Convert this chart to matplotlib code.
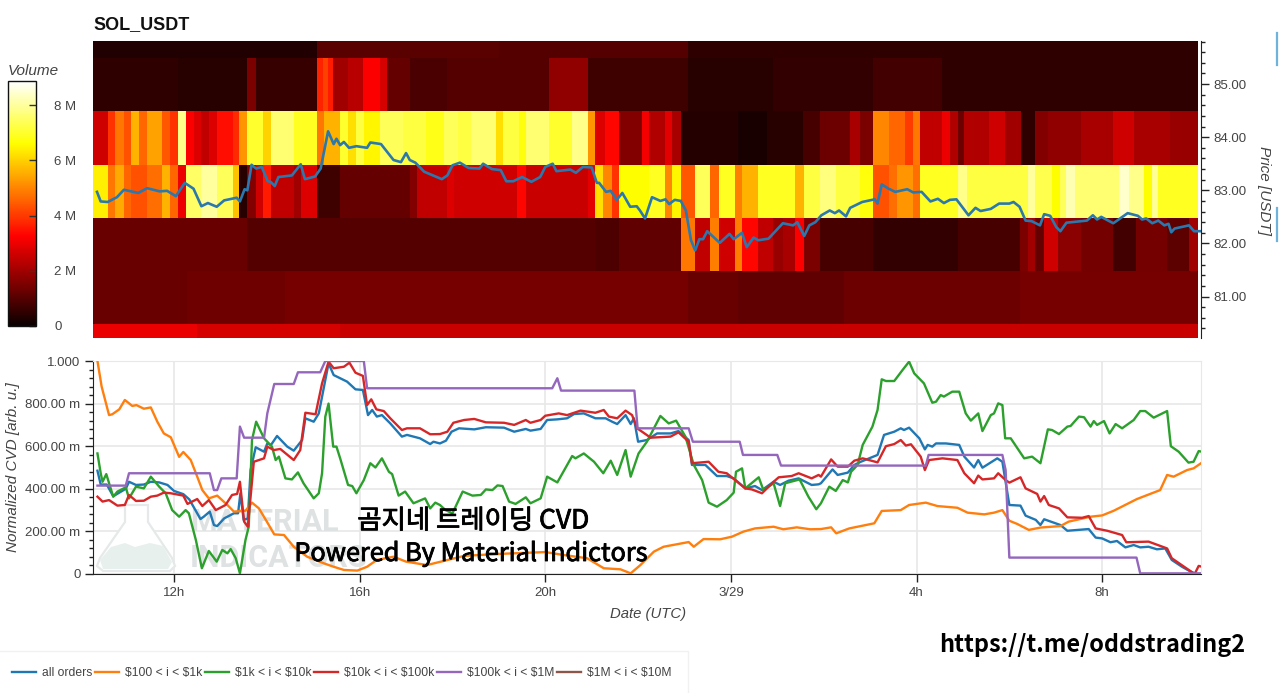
### SOL_USDT volume heatmap with normalized CVD panel below

import matplotlib
matplotlib.use('Agg')
import numpy as np
import matplotlib.pyplot as plt
import matplotlib.patheffects as path_effects
from matplotlib.colors import Normalize
from matplotlib.cm import ScalarMappable
from matplotlib.lines import Line2D
from matplotlib.ticker import MultipleLocator

plt.rcParams['font.family'] = ['Liberation Sans', 'DejaVu Sans']

# heatmap data, hours are counted from 3/28 00:00 UTC, volume in millions
price_edges = [80.22, 80.48, 81.48, 82.48, 83.48, 84.49, 85.49, 85.81]

band_80_hours = [10.25, 12.5, 15.58, 34.07]
band_80_volume = [2.95, 2.7, 2.5]

band_81_hours = [10.25, 12.27, 14.4, 23.08, 24.15, 26.44, 30.22, 34.07]
band_81_volume = [1.25, 1.35, 1.45, 1.25, 1.15, 1.3, 1.45]

band_82_hours = [10.25, 13.58, 21.08, 21.58, 22.92, 23.23, 23.55, 23.75, 24.08, 24.24, 24.59, 24.9, 25.12,
                 25.38, 25.58, 25.91, 27.07, 28.9, 30.22, 30.4, 30.55, 30.75, 31.05, 31.54, 32.24, 32.73,
                 33.39, 33.87, 34.07]
band_82_volume = [1.25, 1.0, 0.9, 1.15, 4.8, 2.4, 4.9, 2.6, 4.9, 3.3, 2.4, 1.9, 2.1,
                  3.2, 1.5, 0.8, 0.55, 0.8, 1.5, 2.0, 1.2, 2.6, 1.7, 1.4, 0.75, 1.4, 1.1, 2.0]

band_83_hours = [10.25, 10.57, 10.73, 10.92, 11.08, 11.42, 11.75, 11.92, 12.08, 12.25, 12.59, 12.92, 13.27,
                 13.41, 13.58, 13.77, 13.92, 14.08, 14.58, 14.73, 15.08, 15.58, 17.08, 17.23, 17.89, 18.04,
                 19.39, 19.58, 20.93, 21.08, 21.25, 21.43, 21.58, 22.23, 22.57, 22.74, 22.92, 23.23, 23.55,
                 23.75, 24.08, 24.24, 24.59, 25.38, 25.58, 25.91, 26.26, 26.79, 27.07, 27.41, 27.58, 27.93,
                 28.07, 28.9, 29.08, 30.4, 30.55, 30.92, 31.1, 31.23, 31.41, 32.37, 32.58, 32.9, 33.08,
                 33.21, 34.07]
band_83_volume = [6.4, 4.8, 5.5, 4.6, 4.3, 4.7, 5.6, 4.6, 3.0, 7.5, 8.0, 7.4, 5.8,
                  0.4, 1.6, 2.6, 3.6, 2.4, 2.0, 2.8, 0.7, 1.2, 1.6, 2.4, 2.8,
                  2.6, 3.3, 2.5, 2.9, 6.2, 5.0, 3.9, 6.6, 6.9, 5.0, 6.5, 4.4, 7.4,
                  4.6, 6.9, 4.9, 5.6, 6.9, 5.6, 7.2, 7.7, 7.2, 6.7, 4.3, 4.7, 5.2,
                  4.7, 6.9, 7.8, 7.2, 8.0, 7.3, 6.6, 7.4, 8.2, 7.6, 8.4, 7.8, 6.6,
                  7.9, 6.9]

band_84_hours = [10.25, 10.57, 10.73, 10.92, 11.08, 11.24, 11.42, 11.75, 11.92, 12.08, 12.25, 12.42, 12.59,
                 12.75, 12.92, 13.27, 13.41, 13.58, 13.92, 14.08, 14.58, 15.08, 15.23, 15.58, 15.75, 15.93,
                 16.09, 16.43, 16.93, 17.43, 17.81, 18.12, 18.39, 18.93, 19.08, 19.43, 19.58, 20.08, 20.58,
                 20.93, 21.08, 21.28, 21.58, 22.08, 22.23, 22.57, 22.74, 22.92, 24.15, 24.77, 25.56, 25.91,
                 26.57, 26.79, 27.07, 27.41, 27.76, 27.92, 28.07, 28.55, 28.72, 28.9, 29.03, 29.56, 29.91,
                 30.26, 30.55, 30.84, 31.54, 32.24, 32.68, 33.47, 34.07]
band_84_volume = [2.6, 3.9, 4.8, 4.3, 5.6, 4.6, 5.4, 4.4, 3.9, 7.8, 3.2, 2.8, 2.4,
                  2.8, 3.4, 3.8, 5.2, 7.0, 6.0, 7.6, 6.9, 4.8, 5.6, 7.0, 6.2, 7.2,
                  6.5, 7.4, 7.2, 6.8, 7.4, 7.2, 7.6, 6.2, 7.2, 6.7, 7.6, 7.0, 7.8,
                  5.2, 2.8, 3.3, 1.6, 3.1, 2.2, 2.9, 2.1, 0.35, 0.2, 0.4, 0.8,
                  1.3, 2.1, 1.5, 5.0, 4.6, 4.0, 4.8, 2.4, 3.0, 2.2, 1.3, 2.2, 2.6, 2.0,
                  0.5, 1.6, 1.8, 2.1, 2.6, 2.1, 1.9]

band_85_hours = [10.25, 12.08, 13.58, 13.77, 15.08, 15.2, 15.31, 15.42, 15.74, 16.08, 16.43, 16.58, 17.08,
                 17.89, 20.08, 20.93, 23.08, 24.9, 27.07, 28.55, 34.07]
band_85_volume = [0.5, 0.4, 1.5, 0.6, 3.7, 4.1, 3.6, 2.0, 2.3, 3.2, 2.7, 1.2, 0.85,
                  1.0, 1.8, 0.7, 0.4, 0.55, 0.75, 0.5]

band_86_hours = [10.25, 15.08, 19.0, 23.08, 34.07]
band_86_volume = [0.3, 1.05, 1.0, 0.5]

# price line
price_hours = [10.34, 10.42, 10.57, 10.77, 10.92, 11.23, 11.42, 11.69, 11.85, 12.04, 12.23, 12.42, 12.59, 12.73,
               12.92, 13.08, 13.35, 13.42, 13.52, 13.58, 13.67, 13.77, 13.89, 14.02, 14.08, 14.17, 14.25, 14.54,
               14.73, 14.82, 15.04, 15.16, 15.32, 15.44, 15.5, 15.58, 15.66, 15.77, 15.93, 16.16, 16.23, 16.46,
               16.73, 16.89, 17.0, 17.08, 17.2, 17.39, 17.77, 17.89, 18.0, 18.16, 18.35, 18.58, 18.66, 18.85,
               19.04, 19.16, 19.31, 19.5, 19.7, 19.89, 20.0, 20.16, 20.24, 20.54, 20.66, 20.81, 21.0, 21.11,
               21.16, 21.31, 21.41, 21.54, 21.66, 21.83, 21.97, 22.04, 22.15, 22.3, 22.48, 22.59, 22.67, 22.79,
               22.92, 23.03, 23.14, 23.23, 23.32, 23.4, 23.49, 23.76, 23.97, 24.06, 24.24, 24.34, 24.49, 24.59,
               24.81, 25.12, 25.34, 25.43, 25.58, 25.69, 25.82, 25.95, 26.13, 26.24, 26.33, 26.48, 26.57, 26.83,
               27.1, 27.16, 27.25, 27.4, 27.54, 27.8, 27.93, 28.11, 28.3, 28.46, 28.59, 28.72, 28.86, 29.12,
               29.27, 29.38, 29.6, 29.78, 30.0, 30.09, 30.22, 30.35, 30.48, 30.66, 30.75, 30.88, 31.01, 31.1,
               31.23, 31.67, 31.8, 31.89, 31.98, 32.24, 32.55, 32.77, 32.86, 32.95, 33.08, 33.21, 33.34, 33.43,
               33.49, 33.56, 33.87, 33.98, 34.13]
price_usdt = [82.97, 82.79, 82.78, 82.87, 83.01, 82.95, 83.04, 82.98, 82.99, 82.89, 83.14, 83.03, 82.70, 82.76,
              82.69, 82.81, 82.86, 82.79, 83.02, 83.0, 83.48, 83.41, 83.44, 83.17, 83.16, 83.08, 83.25, 83.28,
              83.49, 83.21, 83.26, 83.41, 84.11, 83.87, 83.97, 83.85, 83.91, 83.8, 83.83, 83.8, 83.9, 83.87,
              83.57, 83.53, 83.7, 83.57, 83.52, 83.35, 83.21, 83.28, 83.47, 83.52, 83.42, 83.41, 83.5, 83.4,
              83.38, 83.17, 83.17, 83.25, 83.16, 83.25, 83.44, 83.5, 83.36, 83.39, 83.33, 83.44, 83.43, 83.14,
              83.14, 82.97, 82.99, 82.82, 82.95, 82.69, 82.7, 82.62, 82.47, 82.87, 82.8, 82.83, 82.74, 82.82,
              82.8, 82.62, 82.06, 81.87, 82.08, 82.08, 82.23, 82.01, 82.18, 82.08, 82.2, 81.93, 82.11, 82.06,
              82.09, 82.38, 82.34, 82.4, 82.14, 82.34, 82.4, 82.53, 82.62, 82.57, 82.62, 82.51, 82.67, 82.78,
              82.83, 82.75, 83.11, 83.03, 82.97, 83.02, 82.96, 82.97, 82.79, 82.84, 82.76, 82.82, 82.83, 82.53,
              82.67, 82.61, 82.65, 82.75, 82.75, 82.78, 82.69, 82.43, 82.42, 82.34, 82.55, 82.52, 82.31, 82.23,
              82.39, 82.43, 82.53, 82.45, 82.5, 82.38, 82.57, 82.52, 82.45, 82.47, 82.38, 82.43, 82.34, 82.37,
              82.21, 82.28, 82.34, 82.23, 82.23]

# CVD lines
all_hours = [10.35, 10.42, 10.55, 10.69, 10.96, 11.03, 11.18, 11.35, 11.5, 11.68, 11.86, 12.0, 12.2, 12.33, 12.57,
             12.64, 12.77, 12.86, 12.93, 13.08, 13.29, 13.38, 13.43, 13.5, 13.59, 13.65, 13.76, 13.94, 14.01, 14.09,
             14.22, 14.44, 14.58, 14.76, 14.83, 15.01, 15.12, 15.33, 15.44, 15.73, 15.91, 16.07, 16.18, 16.27, 16.37,
             16.48, 16.66, 16.91, 17.02, 17.3, 17.52, 17.59, 17.73, 17.86, 17.98, 18.14, 18.47, 18.72, 19.11, 19.33,
             19.58, 19.68, 19.9, 20.04, 20.26, 20.47, 20.62, 20.83, 21.08, 21.3, 21.44, 21.55, 21.73, 21.84, 21.91,
             22.0, 22.19, 22.41, 22.7, 22.87, 23.09, 23.16, 23.45, 23.7, 23.91, 24.06, 24.31, 24.52, 24.67, 24.92,
             25.06, 25.24, 25.46, 25.74, 25.89, 25.94, 26.19, 26.3, 26.52, 26.66, 26.8, 27.16, 27.3, 27.52, 27.66,
             27.73, 27.84, 28.06, 28.18, 28.24, 28.34, 28.42, 28.63, 28.92, 29.03, 29.24, 29.33, 29.42, 29.74, 29.85,
             29.92, 30.0, 30.24, 30.35, 30.57, 30.67, 30.75, 31.1, 31.25, 31.71, 31.86, 32.0, 32.18, 32.32, 32.5,
             32.68, 32.82, 33.0, 33.18, 33.36, 33.5, 33.72, 34.0, 34.15]
all_cvd = [.485, .42, .42, .365, .40, .433, .418, .42, .433, .43, .418, .39, .375, .35, .258,
           .269, .293, .23, .225, .261, .285, .285, .379, .254, .261, .488, .595, .574, .613, .606,
           .648, .598, .579, .629, .731, .715, .754, .989, .934, .903, .867, .864, .746, .77, .739,
           .746, .707, .645, .653, .637, .61, .621, .613, .626, .668, .684, .679, .689, .687, .668,
           .681, .673, .681, .723, .726, .731, .751, .754, .731, .731, .715, .704, .746, .704, .731,
           .621, .629, .66, .66, .671, .629, .512, .512, .46, .46, .449, .402, .413, .394, .433,
           .418, .438, .449, .418, .421, .426, .491, .465, .476, .512, .527, .559, .653, .668, .684,
           .676, .687, .637, .585, .606, .598, .613, .613, .606, .551, .50, .535, .499, .543, .527,
           .433, .324, .321, .274, .254, .23, .257, .23, .203, .211, .171, .167, .149, .155, .125,
           .136, .125, .128, .116, .12, .066, .034, 0.0, 0.0]

orange_hours = [10.35, 10.44, 10.6, 10.67, 10.82, 10.94, 11.1, 11.19, 11.35, 11.5, 11.64, 11.78, 11.93, 12.11, 12.2,
                12.36, 12.5, 12.61, 12.75, 12.93, 13.15, 13.29, 13.54, 13.68, 13.83, 14.0, 14.16, 14.37, 14.58, 14.87,
                15.23, 15.44, 15.66, 15.95, 16.16, 16.37, 16.73, 17.0, 17.45, 17.75, 18.25, 18.97, 20.0, 20.4, 20.9,
                21.26, 21.62, 21.84, 22.05, 22.34, 22.55, 23.09, 23.2, 23.41, 23.77, 24.02, 24.27, 24.52, 24.92, 25.13,
                25.42, 25.71, 25.94, 26.16, 26.27, 26.55, 27.09, 27.25, 27.66, 27.84, 28.2, 28.45, 28.88, 29.1, 29.46,
                29.67, 29.85, 30.0, 30.17, 30.42, 30.67, 31.1, 31.28, 31.75, 32.0, 32.25, 32.75, 33.25, 33.4, 33.54,
                33.83, 33.97, 34.15]
orange_cvd = [1.0, .88, .746, .75, .773, .817, .789, .793, .776, .782, .715, .66, .642, .55, .573,
              .535, .457, .394, .355, .368, .324, .293, .297, .335, .308, .246, .186, .183, .128, .081,
              .05, .034, .019, .016, .034, .066, .081, .058, .042, .058, .085, .094, .103, .089, .074,
              .027, .022, .003, .042, .105, .128, .15, .128, .164, .163, .175, .199, .214, .222, .21,
              .219, .21, .211, .219, .191, .214, .238, .296, .30, .324, .335, .319, .311, .288, .28,
              .288, .30, .25, .235, .207, .218, .225, .246, .269, .275, .297, .352, .394, .465, .457,
              .488, .496, .523]

green_hours = [10.35, 10.42, 10.46, 10.54, 10.69, 10.78, 10.96, 11.03, 11.18, 11.35, 11.5, 11.68, 11.82, 11.96, 12.11,
               12.25, 12.32, 12.47, 12.6, 12.75, 12.92, 13.04, 13.15, 13.22, 13.33, 13.42, 13.54, 13.61, 13.68, 13.77,
               13.94, 14.11, 14.19, 14.26, 14.4, 14.54, 14.67, 14.79, 15.01, 15.12, 15.19, 15.26, 15.33, 15.43, 15.5,
               15.58, 15.75, 15.84, 15.93, 16.09, 16.23, 16.34, 16.48, 16.63, 16.7, 16.84, 16.98, 17.16, 17.41, 17.52,
               17.63, 17.73, 17.85, 18.0, 18.22, 18.43, 18.61, 18.72, 18.86, 18.97, 19.08, 19.22, 19.36, 19.58, 19.68,
               19.9, 20.04, 20.26, 20.58, 20.65, 20.83, 21.05, 21.25, 21.41, 21.55, 21.73, 21.84, 22.01, 22.19, 22.48,
               22.66, 22.82, 23.02, 23.2, 23.38, 23.52, 23.7, 23.91, 24.06, 24.11, 24.24, 24.31, 24.6, 24.7, 24.92,
               25.06, 25.17, 25.48, 25.67, 25.84, 25.94, 26.12, 26.26, 26.41, 26.52, 26.59, 26.73, 26.84, 27.05, 27.16,
               27.25, 27.34, 27.52, 27.7, 27.84, 27.95, 28.16, 28.34, 28.42, 28.52, 28.59, 28.77, 28.92, 29.06, 29.17,
               29.33, 29.42, 29.6, 29.67, 29.76, 29.85, 29.91, 30.03, 30.32, 30.49, 30.67, 30.83, 30.92, 31.07, 31.25,
               31.32, 31.5, 31.61, 31.75, 31.82, 31.89, 32.04, 32.16, 32.29, 32.43, 32.68, 32.82, 32.93, 33.11, 33.4,
               33.48, 33.65, 33.86, 33.97, 34.08, 34.15]
green_cvd = [.566, .473, .433, .469, .363, .387, .407, .355, .41, .402, .457, .41, .379, .30, .269,
             .30, .285, .16, .027, .108, .058, .113, .097, .117, .074, .003, .16, .222, .629, .715,
             .637, .598, .535, .551, .449, .444, .477, .426, .355, .379, .473, .739, .80, .598, .598,
             .543, .418, .413, .379, .441, .52, .50, .543, .48, .469, .368, .387, .332, .355, .308,
             .335, .324, .30, .285, .387, .368, .371, .397, .394, .416, .413, .34, .329, .36, .332,
             .355, .457, .43, .554, .543, .566, .527, .473, .532, .465, .582, .457, .566, .621, .742,
             .707, .72, .645, .512, .441, .335, .316, .347, .382, .48, .496, .402, .454, .394, .426,
             .319, .426, .444, .363, .304, .332, .41, .39, .441, .43, .48, .512, .606, .692, .77,
             .914, .906, .906, .958, .997, .942, .895, .804, .809, .84, .833, .856, .856, .754, .72,
             .754, .671, .746, .754, .801, .793, .637, .637, .543, .551, .52, .679, .676, .657, .692,
             .695, .739, .736, .692, .718, .70, .718, .66, .704, .684, .723, .765, .765, .734, .765,
             .60, .574, .523, .527, .577, .574]

red_hours = [10.35, 10.46, 10.6, 10.78, 10.94, 11.03, 11.18, 11.35, 11.5, 11.64, 11.78, 11.93, 12.2, 12.29, 12.5,
             12.61, 12.75, 12.9, 13.11, 13.25, 13.36, 13.42, 13.51, 13.59, 13.72, 13.94, 14.01, 14.15, 14.29, 14.58,
             14.72, 14.83, 15.05, 15.19, 15.33, 15.44, 15.66, 15.78, 15.91, 16.07, 16.16, 16.25, 16.36, 16.52, 16.66,
             16.91, 17.02, 17.3, 17.52, 17.73, 17.89, 18.02, 18.25, 18.47, 18.72, 19.11, 19.33, 19.58, 19.68, 19.9,
             20.0, 20.29, 20.47, 20.76, 21.08, 21.26, 21.37, 21.55, 21.73, 21.87, 21.98, 22.27, 22.7, 22.87, 23.09,
             23.16, 23.52, 23.73, 23.91, 24.31, 24.45, 24.67, 24.92, 25.03, 25.31, 25.46, 25.74, 25.89, 25.94, 26.16,
             26.3, 26.52, 26.66, 26.84, 27.16, 27.34, 27.52, 27.66, 27.77, 27.88, 28.09, 28.18, 28.27, 28.56, 28.88,
             29.03, 29.24, 29.33, 29.42, 29.67, 29.76, 29.92, 30.0, 30.24, 30.35, 30.6, 30.67, 30.75, 30.85, 31.07,
             31.25, 31.57, 31.71, 31.86, 32.11, 32.43, 32.52, 33.0, 33.4, 33.5, 33.94, 34.0, 34.08, 34.15]
red_cvd = [.363, .34, .347, .321, .324, .371, .343, .344, .363, .368, .382, .379, .368, .329, .352,
           .319, .347, .30, .324, .371, .376, .433, .246, .222, .527, .543, .598, .582, .587, .535,
           .582, .757, .75, .895, .997, .966, .973, .992, .945, .93, .793, .82, .773, .765, .731,
           .676, .684, .684, .656, .657, .668, .71, .723, .728, .712, .71, .70, .723, .71, .723,
           .743, .754, .746, .767, .757, .77, .739, .731, .767, .746, .684, .64, .645, .665, .621,
           .52, .527, .48, .473, .402, .397, .379, .433, .454, .46, .473, .449, .465, .457, .538,
           .504, .504, .532, .543, .524, .60, .61, .629, .603, .609, .551, .488, .535, .543, .535,
           .473, .426, .462, .444, .449, .473, .441, .429, .454, .402, .376, .34, .366, .324, .308,
           .266, .264, .272, .214, .203, .183, .149, .152, .12, .074, .008, .003, .038, .034]

purple_hours = [10.35, 10.96, 11.03, 12.77, 12.86, 12.93, 13.02, 13.35, 13.42, 13.51, 13.94, 14.01, 14.16, 14.58, 14.67,
                15.15, 15.26, 16.09, 16.16, 20.15, 20.26, 20.34, 21.92, 21.99, 23.09, 23.18, 24.19, 24.26, 25.0, 25.08,
                28.2, 28.26, 29.85, 29.92, 30.0, 32.74, 32.82, 34.15]
purple_cvd = [.415, .415, .473, .473, .394, .394, .449, .449, .692, .64, .64, .754, .892, .892, .947,
              .947, 1.0, 1.0, .872, .872, .919, .861, .861, .684, .684, .621, .621, .559, .559, .509,
              .509, .559, .559, .488, .077, .077, .003, .003]

# this one never shows up on the chart, it only has a legend entry
brown_hours = []
brown_cvd = []

series_labels = ['all orders', r'\$100 < i < \$1k', r'\$1k < i < \$10k', r'\$10k < i < \$100k', r'\$100k < i < \$1M', r'\$1M < i < \$10M']

hour_ticks = [12, 16, 20, 24, 28, 32]
hour_labels = ['12h', '16h', '20h', '3/29', '4h', '8h']
price_ticks = [81, 82, 83, 84, 85]
cvd_ticks = [0, 0.2, 0.4, 0.6, 0.8, 1.0]
cvd_labels = ['0', '200.00 m', '400.00 m', '600.00 m', '800.00 m', '1.000']
volume_ticks = [0, 2, 4, 6, 8]
volume_labels = ['0', '2 M', '4 M', '6 M', '8 M']

grey_text = '#444444'
W, H = 1280, 693


# pixel box of the reference to figure fractions
def px_box(left, top, right, bottom):
    return [left / W, 1 - bottom / H, (right - left) / W, (bottom - top) / H]


def fx(px):
    return px / W


def fy(py):
    return 1 - py / H


fig = plt.figure(figsize=(12.8, 6.93), dpi=100)
fig.patch.set_facecolor('white')

# heatmap
ax_heat = fig.add_axes(px_box(93, 41, 1201, 338))
norm = Normalize(vmin=0, vmax=8.87)
bands = [(band_80_hours, band_80_volume), (band_81_hours, band_81_volume), (band_82_hours, band_82_volume),
         (band_83_hours, band_83_volume), (band_84_hours, band_84_volume), (band_85_hours, band_85_volume),
         (band_86_hours, band_86_volume)]
for i in range(0, len(bands)):
    hours, volume = bands[i]
    ax_heat.pcolormesh(hours, price_edges[i:i + 2], np.array([volume]), cmap='hot', norm=norm, linewidth=0, rasterized=True)
ax_heat.plot(price_hours, price_usdt, color='#2a78ad', lw=1.9, solid_joinstyle='round')
ax_heat.set_xlim(10.254, 34.13)
ax_heat.set_ylim(price_edges[0], price_edges[-1])
ax_heat.set_xticks([])
ax_heat.yaxis.tick_right()
ax_heat.set_yticks(price_ticks)
ax_heat.set_yticklabels(['%.2f' % p for p in price_ticks])
ax_heat.yaxis.set_minor_locator(MultipleLocator(0.2))
ax_heat.tick_params(axis='y', which='major', length=6, width=1, color='#222222', labelcolor=grey_text, labelsize=9.5, pad=3)
ax_heat.tick_params(axis='y', which='minor', length=3, width=1, color='#222222')
for side in ['top', 'left', 'bottom']:
    ax_heat.spines[side].set_visible(False)
ax_heat.spines['right'].set_color('#222222')

fig.text(fx(93), fy(25), 'SOL_USDT', fontsize=13, fontweight='bold', color='#111111', ha='left', va='center')
fig.text(fx(1264), fy(191), 'Price [USDT]', rotation=270, style='italic', fontsize=11, color=grey_text, ha='center', va='center')

# colour bar
ax_bar = fig.add_axes(px_box(8, 81, 36, 326))
bar = fig.colorbar(ScalarMappable(norm=norm, cmap='hot'), cax=ax_bar)
bar.set_ticks(volume_ticks)
bar.set_ticklabels(volume_labels)
bar.ax.tick_params(direction='in', length=5, width=1, color='#333333', labelcolor=grey_text, labelsize=9.5, pad=13)
bar.outline.set_edgecolor('#111111')
bar.outline.set_linewidth(1)
fig.text(fx(8), fy(71), 'Volume', style='italic', fontsize=11, color=grey_text, ha='left', va='center')

# CVD panel
ax_cvd = fig.add_axes(px_box(93, 361, 1201, 574))
ax_cvd.plot(all_hours, all_cvd, color='#1f77b4', lw=1.7, zorder=3, label=series_labels[0])
ax_cvd.plot(orange_hours, orange_cvd, color='#ff7f0e', lw=1.7, zorder=3, label=series_labels[1])
ax_cvd.plot(green_hours, green_cvd, color='#2ca02c', lw=1.7, zorder=3, label=series_labels[2])
ax_cvd.plot(red_hours, red_cvd, color='#d62728', lw=1.7, zorder=3, label=series_labels[3])
ax_cvd.plot(purple_hours, purple_cvd, color='#9467bd', lw=1.7, zorder=3, label=series_labels[4])
ax_cvd.plot(brown_hours, brown_cvd, color='#8c564b', lw=1.7, zorder=3, label=series_labels[5])
ax_cvd.set_xticks(hour_ticks)
ax_cvd.set_xticklabels(hour_labels)
ax_cvd.set_yticks(cvd_ticks)
ax_cvd.set_yticklabels(cvd_labels)
ax_cvd.yaxis.set_minor_locator(MultipleLocator(0.04))
ax_cvd.grid(True, which='major', color='#e8e8e8', lw=1.2)
ax_cvd.set_axisbelow(True)
ax_cvd.tick_params(axis='both', which='major', length=6, width=1, color='#222222', labelcolor=grey_text, labelsize=9.5, pad=3)
ax_cvd.tick_params(axis='y', which='minor', length=3, width=1, color='#222222')
ax_cvd.spines['top'].set_color('#e8e8e8')
ax_cvd.spines['right'].set_color('#e8e8e8')
ax_cvd.spines['left'].set_color('#222222')
ax_cvd.spines['bottom'].set_color('#222222')

fig.text(fx(13), fy(467), 'Normalized CVD [arb. u.]', rotation=90, style='italic', fontsize=11, color=grey_text, ha='center', va='center')
fig.text(fx(648), fy(614), 'Date (UTC)', style='italic', fontsize=10.7, color=grey_text, ha='center', va='center')

# watermark sits behind the lines
flask_x = [fx(p) for p in [125, 125, 100, 97, 103, 170, 175, 172, 148, 148]]
flask_y = [fy(p) for p in [505, 522, 558, 566, 571, 571, 566, 558, 522, 505]]
fluid_x = [fx(p) for p in [111, 125, 135, 150, 163, 172, 168, 103, 100]]
fluid_y = [fy(p) for p in [547, 543, 547, 543, 546, 562, 569, 569, 560]]
ax_cvd.fill(flask_x, flask_y, facecolor='white', edgecolor='#e6e9e9', lw=1.6, transform=fig.transFigure, zorder=1, clip_on=False)
ax_cvd.fill(fluid_x, fluid_y, facecolor='#e8f0ee', edgecolor='none', transform=fig.transFigure, zorder=1, clip_on=False)
ax_cvd.text(fx(190), fy(522), 'MATERIAL', fontsize=22, fontweight='bold', family='Roboto', color='#dfe2e2', transform=fig.transFigure, ha='left', va='center', zorder=1)
ax_cvd.text(fx(190), fy(558), 'INDICATORS', fontsize=22, fontweight='bold', family='Roboto', color='#dfe2e2', transform=fig.transFigure, ha='left', va='center', zorder=1)
ax_cvd.set_xlim(10.254, 34.13)
ax_cvd.set_ylim(0, 1)

# overlay captions, a thin stroke gives the semi bold look
cjk = ['Noto Sans CJK KR', 'DejaVu Sans']
stroke = [path_effects.withStroke(linewidth=0.6, foreground='black')]
fig.text(fx(473), fy(521), '곰지네 트레이딩 CVD', family=cjk, fontsize=19, color='black', ha='center', va='center', zorder=5, path_effects=stroke)
fig.text(fx(471), fy(554), 'Powered By Material Indictors', family=cjk, fontsize=18.2, color='black', ha='center', va='center', zorder=5, path_effects=stroke)
fig.text(fx(1092), fy(645), 'https://t.me/oddstrading2', family=cjk, fontweight='bold', fontsize=16.9, color='black', ha='center', va='center', zorder=5)

# legend at the bottom edge of the picture
handles, labels = ax_cvd.get_legend_handles_labels()
fig.legend(handles, labels, loc='lower left', bbox_to_anchor=(-0.003, -0.004), ncol=6, frameon=True, fancybox=False,
           edgecolor='#eeeeee', facecolor='white', fontsize=8.7, handlelength=1.95, handletextpad=0.5, columnspacing=0.25,
           labelcolor=grey_text, borderpad=1.35, borderaxespad=0)

# two light blue marks at the right edge
fig.add_artist(Line2D([fx(1277), fx(1277)], [fy(33), fy(65)], color='#6db3dc', lw=1.6))
fig.add_artist(Line2D([fx(1277), fx(1277)], [fy(208), fy(241)], color='#6db3dc', lw=1.6))

plt.savefig('out.png', dpi=100)
